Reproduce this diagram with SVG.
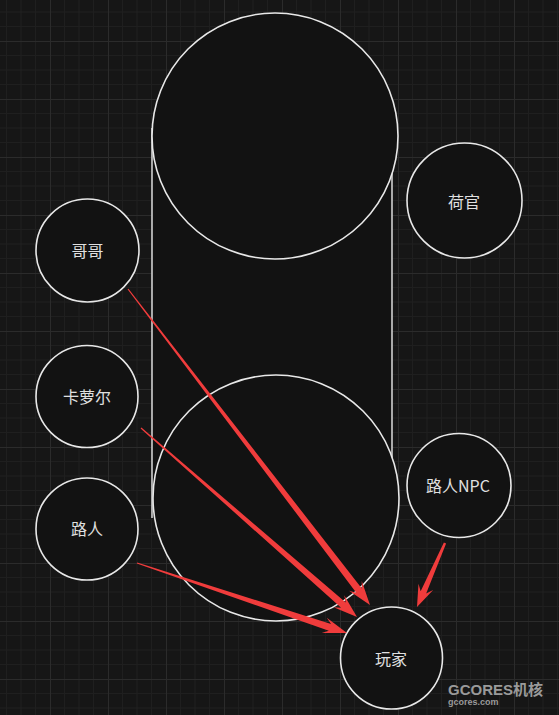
<svg xmlns="http://www.w3.org/2000/svg" width="559" height="715" viewBox="0 0 559 715">
<defs>
<pattern id="grid" x="50" y="41" width="58" height="58" patternUnits="userSpaceOnUse">
<path d="M14.5 0V58M29 0V58M43.5 0V58M0 14.5H58M0 29H58M0 43.5H58" stroke="#1f1f1f" stroke-width="1" fill="none"/>
<path d="M0.5 0V58M0 0.5H58" stroke="#2b2b2b" stroke-width="1" fill="none"/>
</pattern>
<style>
.node{fill:#121212;stroke:#e8e8e8;stroke-width:1.6}
.big{fill:#121212;stroke:#e8e8e8;stroke-width:1.6}
.lbl{font-family:"Noto Sans CJK SC","Noto Sans",sans-serif;font-size:16px;fill:#e0e0e0;text-anchor:middle;dominant-baseline:central}
.arrow{fill:#f03c3c}
</style>
</defs>
<rect width="559" height="715" fill="#161616"/>
<rect width="559" height="715" fill="url(#grid)"/>
<g id="container">
<rect x="152" y="128" width="240" height="390" fill="#121212"/>
<path d="M152 128V518M392 128V518" stroke="#cfcfcf" stroke-width="1.6" fill="none"/>
<circle class="big" cx="275" cy="136" r="123"/>
<circle class="big" cx="276" cy="498" r="123"/>
</g>
<g id="node-gege"><circle class="node" cx="87.5" cy="250.5" r="51.5"/><text class="lbl" x="87.5" y="250">哥哥</text></g>
<g id="node-kaluoer"><circle class="node" cx="87" cy="396.5" r="51"/><text class="lbl" x="87" y="396">卡萝尔</text></g>
<g id="node-luren"><circle class="node" cx="87" cy="529" r="51"/><text class="lbl" x="87" y="528">路人</text></g>
<g id="node-heguan"><circle class="node" cx="464.5" cy="200.5" r="57.5"/><text class="lbl" x="464" y="201">荷官</text></g>
<g id="node-lurennpc"><circle class="node" cx="459" cy="485.5" r="52"/><text class="lbl" x="458" y="485">路人NPC</text></g>
<g id="node-wanjia"><circle class="node" cx="391.5" cy="658" r="51"/><text class="lbl" x="391" y="658">玩家</text></g>
<g id="connectors">
<polygon class="arrow" points="370,605 361.76,581.08 361.84,588.58 128.48,288.64 127.52,289.36 356.28,592.84 349.06,590.80"/>
<polygon class="arrow" points="357,617 344.21,595.18 345.75,602.52 141.40,427.55 140.60,428.45 341.15,607.78 333.67,607.22"/>
<polygon class="arrow" points="347,633 326.76,617.82 331.03,623.99 137.19,562.43 136.81,563.57 328.81,630.63 321.70,633.00"/>
<polygon class="arrow" points="417,607 433.15,590.06 426.16,593.54 446.10,543.48 443.90,542.52 420.66,591.14 418.49,583.64"/>
</g>
<g id="watermark" font-family="'Liberation Sans','Noto Sans CJK SC',sans-serif" font-weight="bold" fill="#9a9a9a">
<text x="448" y="695" font-size="15">GCORES机核</text>
<text x="448" y="705" font-size="9">gcores.com</text>
</g>
</svg>
